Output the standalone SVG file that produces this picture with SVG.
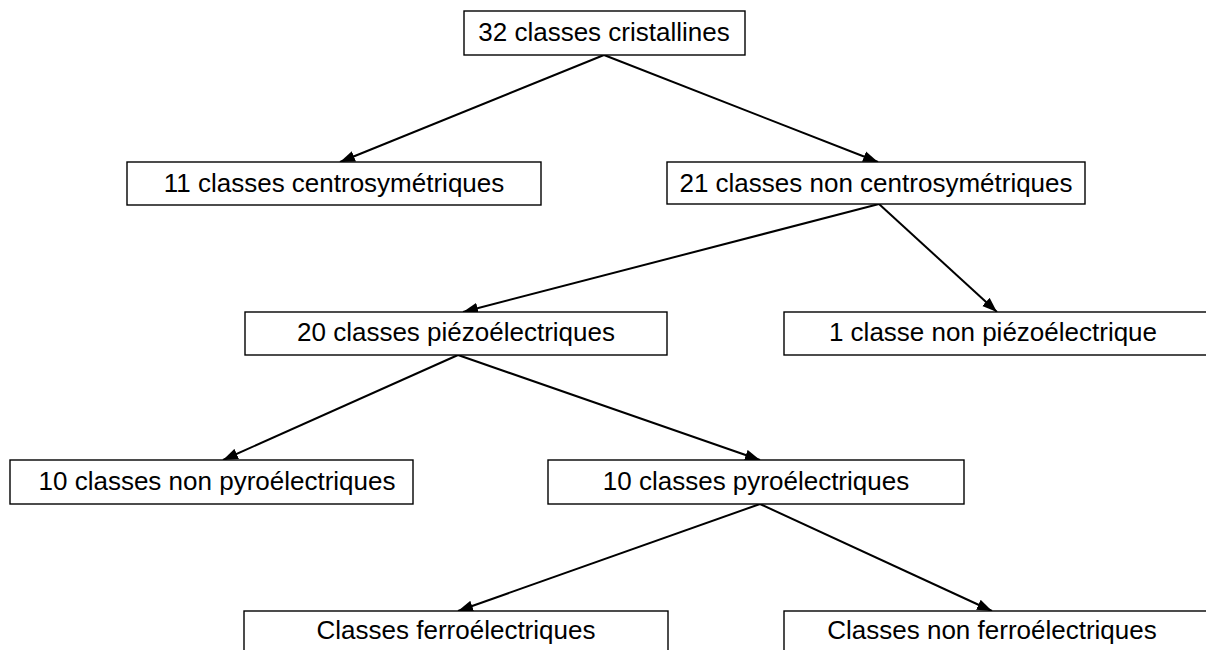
<svg xmlns="http://www.w3.org/2000/svg" width="1206" height="650" viewBox="0 0 1206 650">
<style>
.box{fill:#fff;stroke:#000;stroke-width:1.4}
.lbl{font-family:"Liberation Sans",Arial,sans-serif;font-size:26px;fill:#000;text-anchor:middle}
.edge{stroke:#000;stroke-width:2;fill:none;marker-end:url(#ah)}
</style>
<defs>
<marker id="ah" markerUnits="userSpaceOnUse" markerWidth="16" markerHeight="12" refX="15" refY="6" orient="auto">
<path d="M0,0.5 L15,6 L0,11.5 z" fill="#000"/>
</marker>
</defs>
<rect width="1206" height="650" fill="#fff"/>
<g id="connectors">
<line class="edge" x1="604" y1="55" x2="340" y2="162"/>
<line class="edge" x1="604" y1="55" x2="878" y2="162"/>
<line class="edge" x1="879" y1="204" x2="463" y2="312"/>
<line class="edge" x1="879" y1="204" x2="997" y2="312"/>
<line class="edge" x1="458" y1="355" x2="223" y2="460"/>
<line class="edge" x1="458" y1="355" x2="760" y2="460"/>
<line class="edge" x1="760" y1="504" x2="458" y2="611"/>
<line class="edge" x1="760" y1="504" x2="992" y2="611"/>
</g>
<g id="n1"><rect class="box" x="464" y="11" width="281" height="44"/><text class="lbl" x="604" y="41">32 classes cristallines</text></g>
<g id="n2"><rect class="box" x="127" y="162" width="414" height="43"/><text class="lbl" x="334" y="192">11 classes centrosymétriques</text></g>
<g id="n3"><rect class="box" x="667" y="162" width="418" height="42"/><text class="lbl" x="876" y="192">21 classes non centrosymétriques</text></g>
<g id="n4"><rect class="box" x="245" y="312" width="422" height="43"/><text class="lbl" x="456" y="341">20 classes piézoélectriques</text></g>
<g id="n5"><rect class="box" x="784" y="312" width="430" height="43"/><text class="lbl" x="993" y="341">1 classe non piézoélectrique</text></g>
<g id="n6"><rect class="box" x="10" y="460" width="403" height="44"/><text class="lbl" x="217" y="490">10 classes non pyroélectriques</text></g>
<g id="n7"><rect class="box" x="548" y="460" width="416" height="44"/><text class="lbl" x="756" y="490">10 classes pyroélectriques</text></g>
<g id="n8"><rect class="box" x="244" y="611" width="424" height="50"/><text class="lbl" x="456" y="639">Classes ferroélectriques</text></g>
<g id="n9"><rect class="box" x="784" y="611" width="430" height="50"/><text class="lbl" x="992" y="639">Classes non ferroélectriques</text></g>
</svg>
